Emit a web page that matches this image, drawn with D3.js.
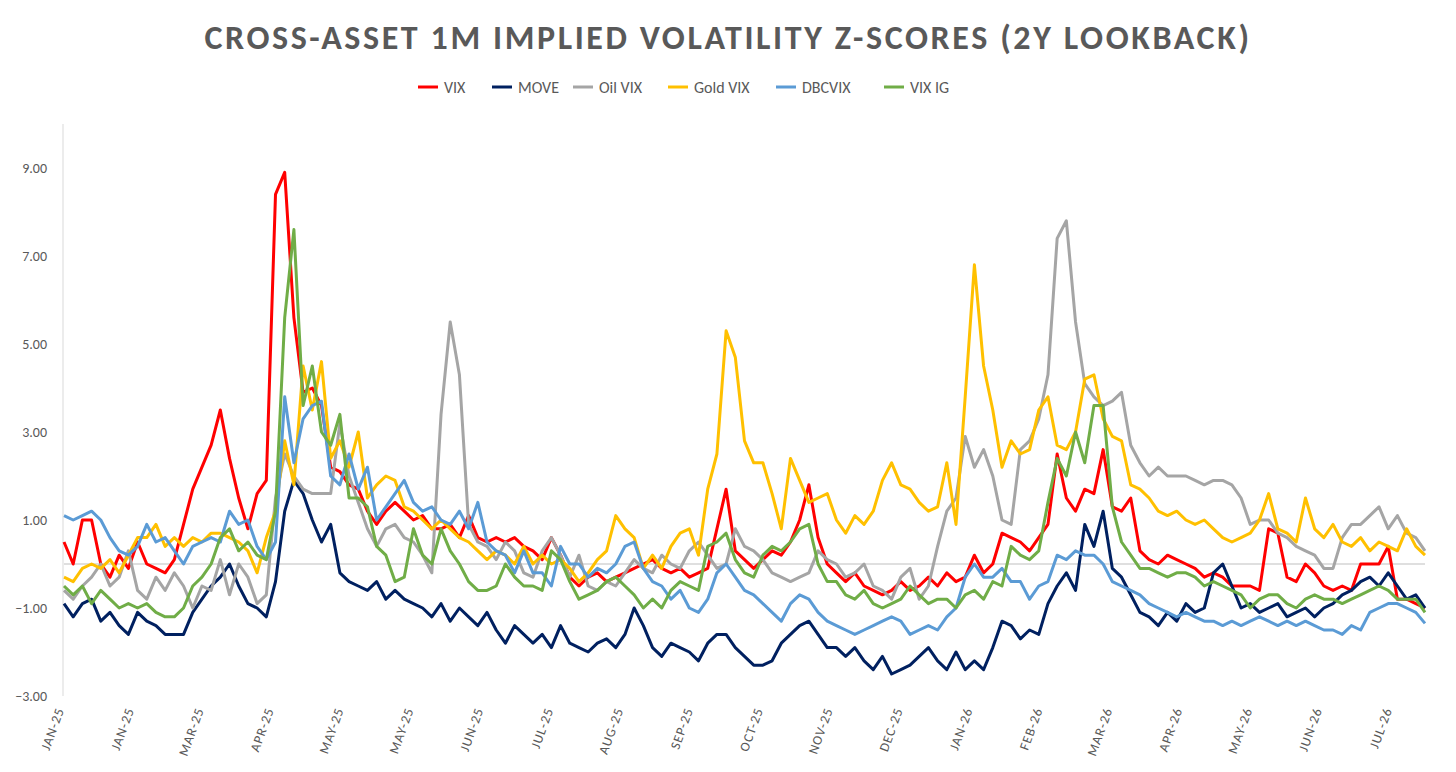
<!DOCTYPE html>
<html>
<head>
<meta charset="utf-8">
<script src="https://cdn.jsdelivr.net/npm/d3@7"></script>
<style>
  body { margin: 0; background: #fff; }
  text { font-family: Calibri, "Open Sans", "Liberation Sans", sans-serif; }
</style>
</head>
<body>
<script>
// tick labels on the category axis
const monthLabels = ["JAN-25","JAN-25","MAR-25","APR-25","MAY-25","MAY-25","JUN-25","JUL-25","AUG-25","SEP-25",
  "OCT-25","NOV-25","DEC-25","JAN-26","FEB-26","MAR-26","APR-26","MAY-26","JUN-26","JUL-26"];
const labelEvery = 7.6; // observations between two labels

// series values
const vix = [0.5,0.0,1.0,1.0,0.0,-0.3,0.2,-0.1,0.5,0.0,-0.1,-0.2,0.1,0.9,1.7,2.2,2.7,3.5,2.4,1.5,
  0.8,1.6,1.9,8.4,8.9,5.6,3.9,4.0,3.6,2.2,2.1,1.8,1.7,1.2,0.9,1.2,1.4,1.2,1.0,1.1,
  0.8,0.8,0.9,0.6,1.1,0.6,0.5,0.6,0.5,0.6,0.4,0.3,0.1,0.6,0.2,-0.3,-0.5,-0.3,-0.2,-0.4,
  -0.3,-0.2,-0.1,0.0,0.1,-0.1,-0.2,-0.1,-0.3,-0.2,-0.1,0.8,1.7,0.3,0.1,-0.1,0.1,0.3,0.2,0.5,
  1.0,1.8,0.6,0.0,-0.2,-0.4,-0.2,-0.5,-0.6,-0.7,-0.6,-0.4,-0.6,-0.5,-0.3,-0.5,-0.2,-0.4,-0.3,0.2,
  -0.2,0.0,0.7,0.6,0.5,0.3,0.6,0.9,2.5,1.5,1.2,1.7,1.6,2.6,1.3,1.2,1.5,0.3,0.1,0.0,
  0.2,0.1,0.0,-0.1,-0.3,-0.2,-0.3,-0.5,-0.5,-0.5,-0.6,0.8,0.7,-0.3,-0.4,0.0,-0.2,-0.5,-0.6,-0.5,
  -0.6,0.0,0.0,0.0,0.4,-0.8,-0.8,-0.9,-1.0];
const move = [-0.9,-1.2,-0.9,-0.8,-1.3,-1.1,-1.4,-1.6,-1.1,-1.3,-1.4,-1.6,-1.6,-1.6,-1.1,-0.8,-0.5,-0.3,0.0,-0.5,
  -0.9,-1.0,-1.2,-0.4,1.2,1.9,1.6,1.0,0.5,0.9,-0.2,-0.4,-0.5,-0.6,-0.4,-0.8,-0.6,-0.8,-0.9,-1.0,
  -1.2,-0.9,-1.3,-1.0,-1.2,-1.4,-1.1,-1.5,-1.8,-1.4,-1.6,-1.8,-1.6,-1.9,-1.4,-1.8,-1.9,-2.0,-1.8,-1.7,
  -1.9,-1.6,-1.0,-1.4,-1.9,-2.1,-1.8,-1.9,-2.0,-2.2,-1.8,-1.6,-1.6,-1.9,-2.1,-2.3,-2.3,-2.2,-1.8,-1.6,
  -1.4,-1.3,-1.6,-1.9,-1.9,-2.1,-1.9,-2.2,-2.4,-2.1,-2.5,-2.4,-2.3,-2.1,-1.9,-2.2,-2.4,-2.0,-2.4,-2.2,
  -2.4,-1.9,-1.3,-1.4,-1.7,-1.5,-1.6,-0.9,-0.5,-0.2,-0.6,0.9,0.4,1.2,-0.1,-0.3,-0.7,-1.1,-1.2,-1.4,
  -1.1,-1.3,-0.9,-1.1,-1.0,-0.2,0.0,-0.5,-1.0,-0.9,-1.1,-1.0,-0.9,-1.2,-1.1,-1.0,-1.2,-1.0,-0.9,-0.7,
  -0.6,-0.4,-0.3,-0.5,-0.2,-0.5,-0.8,-0.7,-1.0];
const oilVix = [-0.6,-0.8,-0.5,-0.3,0.0,-0.5,-0.3,0.3,-0.6,-0.8,-0.3,-0.6,-0.2,-0.5,-1.0,-0.5,-0.6,0.1,-0.7,0.0,
  -0.3,-0.9,-0.7,1.5,2.5,2.0,1.7,1.6,1.6,1.6,3.2,2.0,1.4,0.8,0.4,0.8,0.9,0.6,0.5,0.2,
  -0.2,3.4,5.5,4.3,0.9,0.5,0.4,0.1,0.5,0.3,-0.2,-0.3,0.3,0.6,0.2,-0.3,0.2,-0.5,-0.6,-0.4,
  -0.5,-0.2,0.1,-0.1,-0.2,0.2,0.0,-0.1,0.3,0.5,0.2,-0.1,0.0,0.8,0.4,0.3,0.1,-0.2,-0.3,-0.4,
  -0.3,-0.2,0.3,0.1,0.0,-0.3,-0.2,0.0,-0.5,-0.6,-0.8,-0.3,-0.1,-0.8,-0.5,0.4,1.2,1.5,2.9,2.2,
  2.6,2.0,1.0,0.9,2.6,2.8,3.3,4.3,7.4,7.8,5.5,4.1,3.8,3.6,3.7,3.9,2.7,2.3,2.0,2.2,
  2.0,2.0,2.0,1.9,1.8,1.9,1.9,1.8,1.5,0.9,1.0,1.0,0.7,0.6,0.4,0.3,0.2,-0.1,-0.1,0.6,
  0.9,0.9,1.1,1.3,0.8,1.1,0.7,0.6,0.3];
const goldVix = [-0.3,-0.4,-0.1,0.0,-0.1,0.1,-0.2,0.2,0.6,0.6,0.9,0.4,0.6,0.4,0.6,0.5,0.7,0.7,0.6,0.5,
  0.3,-0.2,0.6,1.2,2.8,1.8,4.5,3.5,4.6,2.4,2.8,2.2,3.0,1.5,1.8,2.0,1.9,1.3,1.2,1.0,
  0.8,1.0,0.8,0.6,0.5,0.3,0.1,0.3,0.2,0.0,0.4,0.0,0.2,0.0,0.1,-0.1,-0.4,-0.2,0.1,0.3,
  1.1,0.8,0.6,-0.1,0.2,-0.1,0.4,0.7,0.8,0.2,1.7,2.5,5.3,4.7,2.8,2.3,2.3,1.6,0.8,2.4,
  1.9,1.4,1.5,1.6,1.0,0.7,1.1,0.9,1.2,1.9,2.3,1.8,1.7,1.4,1.2,1.3,2.3,0.9,3.8,6.8,
  4.5,3.5,2.2,2.8,2.5,2.6,3.5,3.8,2.7,2.6,3.0,4.2,4.3,3.3,2.9,2.8,1.8,1.7,1.5,1.2,
  1.1,1.2,1.0,0.9,1.0,0.8,0.6,0.5,0.6,0.7,1.0,1.6,0.8,0.7,0.5,1.5,0.8,0.6,0.9,0.5,
  0.4,0.6,0.3,0.5,0.4,0.3,0.8,0.4,0.2];
const dbcVix = [1.1,1.0,1.1,1.2,1.0,0.6,0.3,0.2,0.4,0.9,0.5,0.6,0.3,0.0,0.4,0.5,0.6,0.5,1.2,0.9,
  1.0,0.4,0.1,0.5,3.8,2.3,3.3,3.6,3.7,2.0,1.8,2.5,1.7,2.2,1.0,1.3,1.6,1.9,1.4,1.2,
  1.3,1.0,0.9,1.2,0.8,1.4,0.5,0.3,0.2,-0.2,0.3,-0.2,-0.2,-0.5,0.4,0.0,0.0,-0.3,-0.1,-0.2,
  0.0,0.4,0.5,-0.1,-0.4,-0.5,-0.8,-0.6,-1.0,-1.1,-0.8,-0.2,0.0,-0.3,-0.6,-0.7,-0.9,-1.1,-1.3,-0.9,
  -0.7,-0.8,-1.1,-1.3,-1.4,-1.5,-1.6,-1.5,-1.4,-1.3,-1.2,-1.3,-1.6,-1.5,-1.4,-1.5,-1.2,-1.0,-0.3,0.0,
  -0.3,-0.3,-0.1,-0.4,-0.4,-0.8,-0.5,-0.4,0.2,0.1,0.3,0.2,0.2,0.0,-0.4,-0.5,-0.6,-0.7,-0.9,-1.0,
  -1.1,-1.2,-1.1,-1.2,-1.3,-1.3,-1.4,-1.3,-1.4,-1.3,-1.2,-1.3,-1.4,-1.3,-1.4,-1.3,-1.4,-1.5,-1.5,-1.6,
  -1.4,-1.5,-1.1,-1.0,-0.9,-0.9,-1.0,-1.1,-1.35];
const vixIG = [-0.5,-0.7,-0.5,-0.9,-0.6,-0.8,-1.0,-0.9,-1.0,-0.9,-1.1,-1.2,-1.2,-1.0,-0.5,-0.3,0.0,0.6,0.8,0.3,
  0.5,0.2,0.1,1.2,5.6,7.6,3.6,4.5,3.0,2.7,3.4,1.5,1.5,1.3,0.4,0.2,-0.4,-0.3,0.8,0.2,
  0.0,0.8,0.3,0.0,-0.4,-0.6,-0.6,-0.5,0.0,-0.3,-0.5,-0.5,-0.6,0.3,0.1,-0.4,-0.8,-0.7,-0.6,-0.4,
  -0.3,-0.5,-0.7,-1.0,-0.8,-1.0,-0.6,-0.4,-0.5,-0.6,0.4,0.5,0.7,0.1,-0.2,-0.3,0.2,0.4,0.3,0.5,
  0.8,0.9,0.0,-0.4,-0.4,-0.7,-0.8,-0.6,-0.9,-1.0,-0.9,-0.8,-0.5,-0.7,-0.9,-0.8,-0.8,-1.0,-0.7,-0.6,
  -0.8,-0.4,-0.5,0.4,0.2,0.1,0.3,1.4,2.4,2.0,3.0,2.3,3.6,3.6,1.3,0.5,0.2,-0.1,-0.1,-0.2,
  -0.3,-0.2,-0.2,-0.3,-0.5,-0.4,-0.5,-0.6,-0.7,-1.0,-0.8,-0.7,-0.7,-0.9,-1.0,-0.8,-0.7,-0.8,-0.8,-0.9,
  -0.8,-0.7,-0.6,-0.5,-0.6,-0.8,-0.8,-0.8,-1.1];

const seriesNames = ["VIX", "MOVE", "Oil VIX", "Gold VIX", "DBCVIX", "VIX IG"];
const seriesValues = [vix, move, oilVix, goldVix, dbcVix, vixIG];
const seriesColors = ["#ff0000", "#002060", "#a5a5a5", "#ffc000", "#5b9bd5", "#70ad47"];
const yTicks = [-3, -1, 1, 3, 5, 7, 9];

const W = 1456, H = 772;
const plot = {left: 64, right: 1425, top: 124, bottom: 696};

const svg = d3.select("body").append("svg")
    .attr("width", W)
    .attr("height", H);

// title
svg.append("text")
    .attr("x", W / 2)
    .attr("y", 49)
    .attr("text-anchor", "middle")
    .style("font-size", "34px")
    .style("font-weight", "bold")
    .style("letter-spacing", "2.6px")
    .attr("fill", "#595959")
    .text("CROSS-ASSET 1M IMPLIED VOLATILITY Z-SCORES (2Y LOOKBACK)");

// scales
const n = vix.length;
const xScale = d3.scaleLinear().domain([0, n - 1]).range([plot.left, plot.right]);
const yScale = d3.scaleLinear().domain([-3, 10]).range([plot.bottom, plot.top]);

// y axis
const yAxis = svg.append("g")
    .attr("transform", `translate(${plot.left - 1},0)`)
    .call(d3.axisLeft(yScale).tickValues(yTicks).tickFormat(d3.format(".2f")).tickSize(0).tickPadding(16));
yAxis.select(".domain").attr("stroke", "#d9d9d9").attr("d", `M0,${plot.top}V${plot.bottom}`);
yAxis.selectAll("text").style("font-size", "14px").attr("fill", "#595959");

// zero line
svg.append("line")
    .attr("x1", plot.left).attr("x2", plot.right)
    .attr("y1", yScale(0)).attr("y2", yScale(0))
    .attr("stroke", "#bfbfbf").attr("stroke-width", 1.2);

// x labels
svg.append("g").selectAll("text")
    .data(monthLabels)
    .join("text")
    .attr("transform", (d, i) => `translate(${xScale(i * labelEvery) - 4},${plot.bottom + 12}) rotate(-70)`)
    .attr("text-anchor", "end")
    .attr("dy", "0.35em")
    .style("font-size", "13.5px")
    .style("letter-spacing", "1px")
    .attr("fill", "#595959")
    .text(d => d);

// lines
const line = d3.line()
    .x((d, i) => xScale(i))
    .y(d => yScale(d));

svg.append("g").selectAll("path")
    .data(seriesValues)
    .join("path")
    .attr("d", d => line(d))
    .attr("fill", "none")
    .attr("stroke", (d, i) => seriesColors[i])
    .attr("stroke-width", 3)
    .attr("stroke-linejoin", "round");

// legend
const legendX = [418, 492, 573, 668, 776, 884];
const legend = svg.append("g");
seriesNames.forEach((name, i) => {
    legend.append("line")
        .attr("x1", legendX[i]).attr("x2", legendX[i] + 20)
        .attr("y1", 87).attr("y2", 87)
        .attr("stroke", seriesColors[i]).attr("stroke-width", 3);
    legend.append("text")
        .attr("x", legendX[i] + 26)
        .attr("y", 87)
        .attr("dy", "0.35em")
        .style("font-size", "16px")
        .attr("fill", "#595959")
        .text(name);
});
</script>
</body>
</html>
